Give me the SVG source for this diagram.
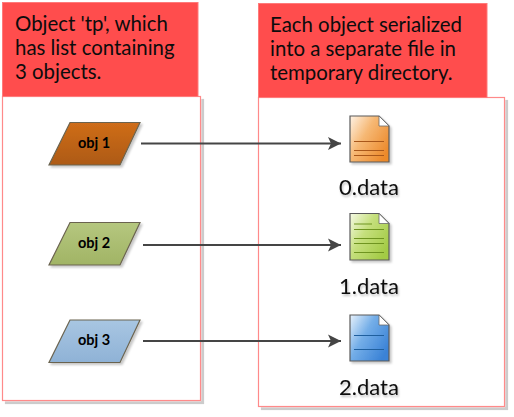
<svg xmlns="http://www.w3.org/2000/svg" width="514" height="417" viewBox="0 0 514 417">
<style>
text{font-family:"Lato","Open Sans",sans-serif;fill:#0c0c0c}
.h{font-size:20.400px}
.d{font-size:22px;text-anchor:middle;filter:url(#ts)}
.o{font-size:14.500px;font-weight:700;text-anchor:middle;fill:#000}
.box{fill:#fff;stroke:#ff8a8a;stroke-width:1.2;filter:url(#sh)}
.hd{fill:#ff4d4d;stroke:#ff7a7a;stroke-width:1}
.p{stroke:#6b6450;stroke-width:1.2;filter:url(#sh2)}
.f{stroke:#5a5a5a;stroke-width:1.2;filter:url(#sh2)}
.c{fill:#fff;stroke:#6a6a6a;stroke-width:.8}
.c0{stroke:#a9571a;stroke-width:1;fill:none}
.c1{stroke:#6f9420;stroke-width:1;fill:none}
.c2{stroke:#1f5f9e;stroke-width:1;fill:none}
.a{stroke:#454545;stroke-width:2;fill:none;marker-end:url(#ah)}
</style>
<defs>
<filter id="sh" x="-5%" y="-5%" width="112%" height="112%"><feDropShadow dx="3" dy="3" stdDeviation="0.4" flood-color="#000" flood-opacity=".2"/></filter>
<filter id="sh2" x="-20%" y="-20%" width="140%" height="140%"><feDropShadow dx="2" dy="2" stdDeviation="1" flood-color="#000" flood-opacity=".22"/></filter>
<filter id="ts" x="-10%" y="-20%" width="120%" height="150%"><feDropShadow dx="1" dy="2" stdDeviation="1" flood-color="#000" flood-opacity=".25"/></filter>
<linearGradient id="g0" x1="0" y1="0" x2="0" y2="1"><stop offset="0" stop-color="#cf6d1a"/><stop offset="1" stop-color="#ad5a12"/></linearGradient>
<linearGradient id="g1" x1="0" y1="0" x2="0" y2="1"><stop offset="0" stop-color="#b5c77f"/><stop offset="1" stop-color="#a1b465"/></linearGradient>
<linearGradient id="g2" x1="0" y1="0" x2="0" y2="1"><stop offset="0" stop-color="#a8c6e2"/><stop offset="1" stop-color="#8fb2d6"/></linearGradient>
<linearGradient id="f0" x1="0" y1="0" x2="1" y2=".7"><stop offset="0" stop-color="#fff3e6"/><stop offset=".45" stop-color="#f6b874"/><stop offset="1" stop-color="#ec8a2c"/></linearGradient>
<linearGradient id="f1" x1="0" y1="0" x2="1" y2=".7"><stop offset="0" stop-color="#f6fae6"/><stop offset=".45" stop-color="#c5df7c"/><stop offset="1" stop-color="#a3cb45"/></linearGradient>
<linearGradient id="f2" x1="0" y1="0" x2="1" y2=".7"><stop offset="0" stop-color="#e8f2fc"/><stop offset=".45" stop-color="#74aee8"/><stop offset="1" stop-color="#3a82d6"/></linearGradient>
<marker id="ah" markerUnits="userSpaceOnUse" markerWidth="14" markerHeight="14" refX="13" refY="7" orient="auto"><path d="M0 0.5L13 7L0 13.500L3 7Z" fill="#454545"/></marker>
</defs>
<g id="panel-left">
<rect class="box" x="2.500" y="96.500" width="198" height="304"/>
<rect class="hd" x="2.500" y="2.500" width="195.500" height="94"/>
<text class="h" x="15" y="31">Object 'tp', which</text>
<text class="h" x="15" y="55">has list containing</text>
<text class="h" x="15" y="78.500">3 objects.</text>
</g>
<g id="panel-right">
<rect class="box" x="258.500" y="97.500" width="246" height="309"/>
<rect class="hd" x="258.500" y="3.500" width="228.500" height="94"/>
<text class="h" x="270" y="32">Each object serialized</text>
<text class="h" x="270" y="56">into a separate file in</text>
<text class="h" x="270" y="80">temporary directory.</text>
</g>
<g id="connectors">
<path class="a" d="M141 143.500H341"/>
<path class="a" d="M143 245H341"/>
<path class="a" d="M143 341H341"/>
</g>
<g id="obj1">
<path class="p" d="M70 122.500H140L120 165H49Z" fill="url(#g0)"/>
<text class="o" x="94" y="148">obj 1</text>
</g>
<g id="obj2">
<path class="p" d="M70 222.500H140L120 265H49Z" fill="url(#g1)"/>
<text class="o" x="94" y="248">obj 2</text>
</g>
<g id="obj3">
<path class="p" d="M70 320H140L120 362.500H49Z" fill="url(#g2)"/>
<text class="o" x="94" y="345">obj 3</text>
</g>
<g id="file0">
<path class="f" d="M350 116H379L389 126V162H350Z" fill="url(#f0)"/>
<path class="c" d="M379 116L389 126H379Z"/>
<path class="c0" d="M354 141.500H384M354 150.500H384M354 155.500H384"/>
<text class="d" x="369" y="195">0.data</text>
</g>
<g id="file1">
<path class="f" d="M350 213.500H379L389 223.500V260H350Z" fill="url(#f1)"/>
<path class="c" d="M379 213.500L389 223.500H379Z"/>
<path class="c1" d="M354 224H372M354 229.500H384M354 238.500H384M354 243.500H384M354 252.500H384"/>
<text class="d" x="369" y="294">1.data</text>
</g>
<g id="file2">
<path class="f" d="M350 315H379L389 325V361H350Z" fill="url(#f2)"/>
<path class="c" d="M379 315L389 325H379Z"/>
<path class="c2" d="M354 335.500H384M354 349.500H384"/>
<text class="d" x="369" y="395">2.data</text>
</g>
</svg>
